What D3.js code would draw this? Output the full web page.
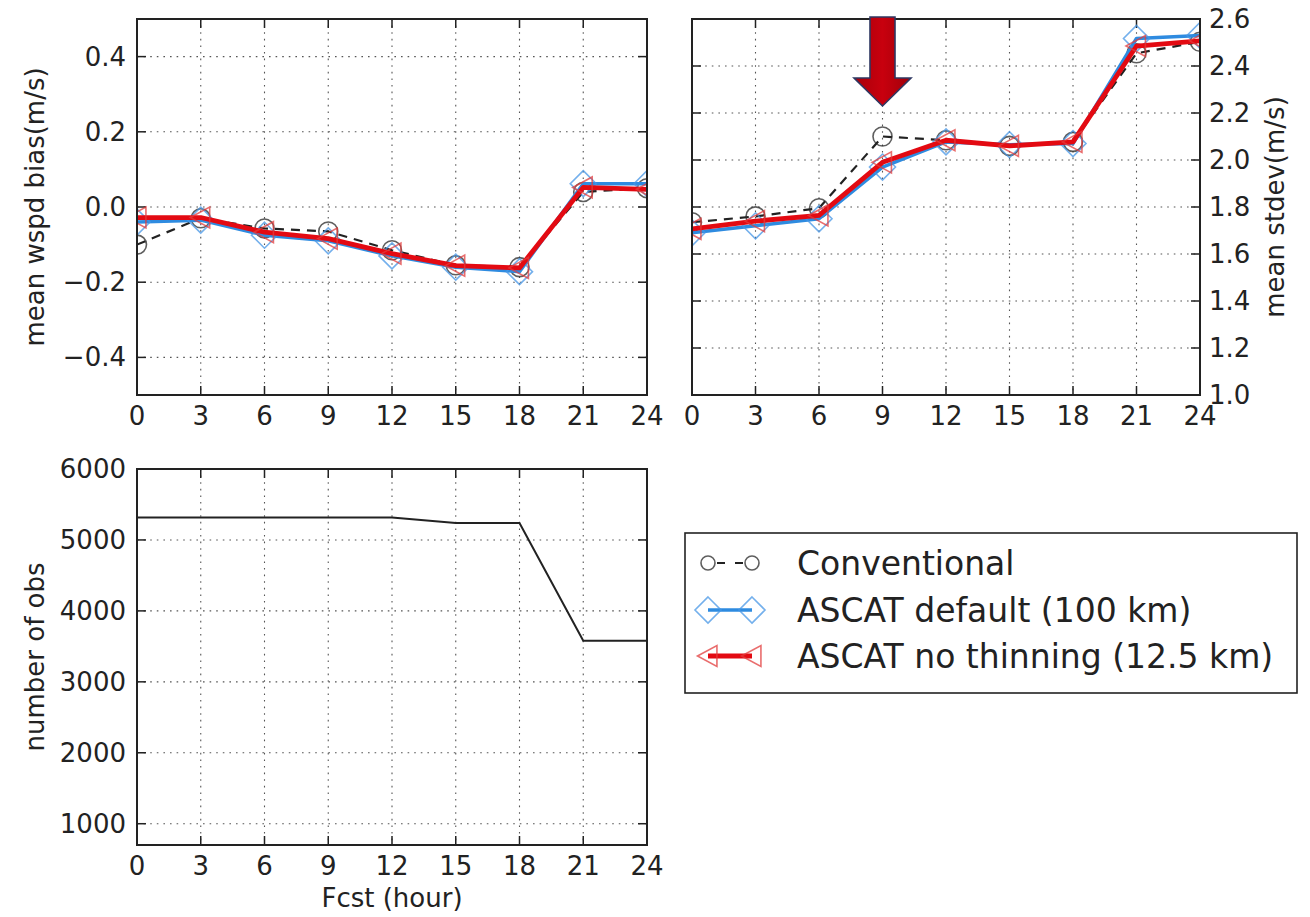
<!DOCTYPE html>
<html>
<head>
<meta charset="utf-8">
<script src="https://cdn.jsdelivr.net/npm/d3@7"></script>
<style>
  html, body { margin: 0; padding: 0; background: #fff; }
  svg { display: block; font-family: "DejaVu Sans", sans-serif; }
</style>
</head>
<body>
<svg id="chart" width="1310" height="917"></svg>
<script>
// ---------------- data ----------------
const hours = [0, 3, 6, 9, 12, 15, 18, 21, 24];
const xTicks = [0, 3, 6, 9, 12, 15, 18, 21, 24];

const seriesNames = ["Conventional", "ASCAT default (100 km)", "ASCAT no thinning (12.5 km)"];

const biasConventional = [-0.10, -0.03, -0.057, -0.065, -0.115, -0.155, -0.16, 0.04, 0.05];
const biasDefault      = [-0.04, -0.035, -0.075, -0.09, -0.13, -0.16, -0.172, 0.062, 0.062];
const biasNoThin       = [-0.028, -0.028, -0.067, -0.084, -0.124, -0.156, -0.162, 0.052, 0.047];

const stdConventional = [1.735, 1.76, 1.795, 2.10, 2.084, 2.06, 2.077, 2.454, 2.503];
const stdDefault      = [1.69, 1.72, 1.75, 1.97, 2.077, 2.065, 2.07, 2.517, 2.53];
const stdNoThin       = [1.707, 1.74, 1.764, 1.99, 2.084, 2.06, 2.077, 2.485, 2.507];

const obsCount = [5315, 5315, 5315, 5315, 5315, 5240, 5240, 3580, 3580];

const biasTicks = [-0.4, -0.2, 0.0, 0.2, 0.4];
const stdTicks = [1.0, 1.2, 1.4, 1.6, 1.8, 2.0, 2.2, 2.4, 2.6];
const obsTicks = [1000, 2000, 3000, 4000, 5000, 6000];

const arrowHour = 9, arrowTopValue = 2.6, arrowTipValue = 2.23;

// ---------------- styles ----------------
const FONT = 26;
const styles = [
  { color: "#222", width: 2.2, dash: "9,7", marker: "circle", mStroke: "rgba(40,40,40,0.75)", size: 9.5, lsize: 7 },
  { color: "#2e8be0", width: 3.5, dash: null, marker: "diamond", mStroke: "rgba(70,150,230,0.75)", size: 13, lsize: 13 },
  { color: "#e30a12", width: 4.8, dash: null, marker: "triangle", mStroke: "rgba(225,60,60,0.75)", size: 10.5, lsize: 10.5 }
];

const svg = d3.select("#chart");
svg.append("rect").attr("width", 1310).attr("height", 917).attr("fill", "#fff");

function markerPath(type, s) {
  if (type === "circle") return d3.symbol().type(d3.symbolCircle).size(Math.PI * s * s)();
  if (type === "diamond") return `M0,${-s}L${s},0L0,${s}L${-s},0Z`;
  // triangle pointing left
  return `M${-s},0L${s * 0.85},${-s}L${s * 0.85},${s}Z`;
}

let clipId = 0;
function panel(opt) {
  const { x0, x1, y0, y1, yDomain, yTicks, yFmt, ySide, yLabel, xLabel } = opt;
  const x = d3.scaleLinear().domain([0, 24]).range([x0, x1]);
  const y = d3.scaleLinear().domain(yDomain).range([y1, y0]);
  const g = svg.append("g");
  const id = "clip" + (clipId++);
  svg.append("defs").append("clipPath").attr("id", id)
    .append("rect").attr("x", x0).attr("y", y0).attr("width", x1 - x0).attr("height", y1 - y0);

  // grid
  const grid = g.append("g").attr("stroke", "#555").attr("stroke-width", 1.1).attr("stroke-dasharray", "1.6,5");
  xTicks.forEach(t => {
    if (t === 0 || t === 24) return;
    grid.append("line").attr("x1", x(t)).attr("x2", x(t)).attr("y1", y0).attr("y2", y1);
  });
  yTicks.forEach(t => {
    if (Math.abs(y(t) - y0) < 1 || Math.abs(y(t) - y1) < 1) return;
    grid.append("line").attr("x1", x0).attr("x2", x1).attr("y1", y(t)).attr("y2", y(t));
  });

  // ticks (inward, all sides)
  const tk = g.append("g").attr("stroke", "#222").attr("stroke-width", 1.5);
  const TL = 9;
  xTicks.forEach(t => {
    tk.append("line").attr("x1", x(t)).attr("x2", x(t)).attr("y1", y1).attr("y2", y1 - TL);
    tk.append("line").attr("x1", x(t)).attr("x2", x(t)).attr("y1", y0).attr("y2", y0 + TL);
  });
  yTicks.forEach(t => {
    tk.append("line").attr("x1", x0).attr("x2", x0 + TL).attr("y1", y(t)).attr("y2", y(t));
    tk.append("line").attr("x1", x1).attr("x2", x1 - TL).attr("y1", y(t)).attr("y2", y(t));
  });

  // tick labels
  const lab = g.append("g").attr("fill", "#222").attr("font-size", FONT);
  xTicks.forEach(t => {
    lab.append("text").attr("x", x(t)).attr("y", y1 + 21).attr("text-anchor", "middle")
      .attr("dominant-baseline", "central").text(t);
  });
  yTicks.forEach(t => {
    lab.append("text")
      .attr("x", ySide === "left" ? x0 - 11 : x1 + 9)
      .attr("y", y(t))
      .attr("text-anchor", ySide === "left" ? "end" : "start")
      .attr("dominant-baseline", "central").text(yFmt(t));
  });

  // axis labels
  const yc = (y0 + y1) / 2;
  const lx = ySide === "left" ? 35 : 1275;
  g.append("text").attr("transform", `translate(${lx},${yc}) rotate(-90)`)
    .attr("text-anchor", "middle").attr("dominant-baseline", "central")
    .attr("font-size", FONT).attr("fill", "#222").text(yLabel);
  if (xLabel) {
    g.append("text").attr("x", (x0 + x1) / 2).attr("y", y1 + 53).attr("text-anchor", "middle")
      .attr("dominant-baseline", "central").attr("font-size", FONT).attr("fill", "#222").text(xLabel);
  }

  const plot = g.append("g").attr("clip-path", `url(#${id})`);
  // frame
  g.append("rect").attr("x", x0).attr("y", y0).attr("width", x1 - x0).attr("height", y1 - y0)
    .attr("fill", "none").attr("stroke", "#222").attr("stroke-width", 2);
  return { x, y, plot, g };
}

function drawSeries(p, values, st) {
  const line = d3.line().x((d, i) => p.x(hours[i])).y(d => p.y(d));
  p.plot.append("path").datum(values).attr("d", line).attr("fill", "none")
    .attr("stroke", st.color).attr("stroke-width", st.width)
    .attr("stroke-dasharray", st.dash).attr("stroke-linejoin", "round");
  p.plot.selectAll(null).data(values).enter().append("path")
    .attr("transform", (d, i) => `translate(${p.x(hours[i])},${p.y(d)})`)
    .attr("d", markerPath(st.marker, st.size))
    .attr("fill", "none").attr("stroke", st.mStroke).attr("stroke-width", 1.6);
}

const fmt1 = d => (d < 0 ? "\u2212" : "") + Math.abs(d).toFixed(1);

// ---------------- top-left: bias ----------------
const pBias = panel({ x0: 137, x1: 647, y0: 19, y1: 395, yDomain: [-0.5, 0.5], yTicks: biasTicks,
  yFmt: fmt1, ySide: "left", yLabel: "mean wspd bias(m/s)" });
[biasConventional, biasDefault, biasNoThin].forEach((v, i) => drawSeries(pBias, v, styles[i]));

// ---------------- top-right: stdev ----------------
const pStd = panel({ x0: 692, x1: 1200, y0: 19, y1: 395, yDomain: [1.0, 2.6], yTicks: stdTicks,
  yFmt: fmt1, ySide: "right", yLabel: "mean stdev(m/s)" });
[stdConventional, stdDefault, stdNoThin].forEach((v, i) => drawSeries(pStd, v, styles[i]));

// arrow annotation
{
  const ax = pStd.x(arrowHour);
  const yt = pStd.y(arrowTopValue) - 2;
  const yTip = pStd.y(arrowTipValue);
  const sw = 12.5, hw = 28.5, hl = 28;
  const grad = svg.append("defs").append("linearGradient").attr("id", "arrGrad")
    .attr("x1", 0).attr("x2", 1).attr("y1", 0).attr("y2", 0);
  grad.append("stop").attr("offset", "0%").attr("stop-color", "#a8000a");
  grad.append("stop").attr("offset", "50%").attr("stop-color", "#c8000e");
  grad.append("stop").attr("offset", "100%").attr("stop-color", "#a0000a");
  const pts = [
    [ax - sw, yt], [ax + sw, yt], [ax + sw, yTip - hl], [ax + hw, yTip - hl],
    [ax, yTip], [ax - hw, yTip - hl], [ax - sw, yTip - hl]
  ];
  svg.append("path").attr("d", d3.line()(pts) + "Z")
    .attr("fill", "url(#arrGrad)").attr("stroke", "#2e3762").attr("stroke-width", 1.6)
    .attr("stroke-linejoin", "miter");
}

// ---------------- bottom: obs count ----------------
const pObs = panel({ x0: 137, x1: 647, y0: 469, y1: 845, yDomain: [700, 6000], yTicks: obsTicks,
  yFmt: d => String(d), ySide: "left", yLabel: "number of obs", xLabel: "Fcst (hour)" });
pObs.plot.append("path").datum(obsCount)
  .attr("d", d3.line().x((d, i) => pObs.x(hours[i])).y(d => pObs.y(d)))
  .attr("fill", "none").attr("stroke", "#222").attr("stroke-width", 2);

// ---------------- legend ----------------
{
  const lg = svg.append("g");
  lg.append("rect").attr("x", 685).attr("y", 533).attr("width", 612).attr("height", 160)
    .attr("fill", "#fff").attr("stroke", "#222").attr("stroke-width", 1.6);
  const rowY = [563, 610, 656];
  const hx0 = 708, hx1 = 752;
  seriesNames.forEach((name, i) => {
    const st = styles[i];
    const yy = rowY[i];
    lg.append("line").attr("x1", hx0).attr("x2", hx1).attr("y1", yy).attr("y2", yy)
      .attr("stroke", st.color).attr("stroke-width", st.width)
      .attr("stroke-dasharray", i === 0 ? "8,10" : null)
      .attr("stroke-dashoffset", i === 0 ? -9 : 0);
    [hx0, hx1].forEach(mx => {
      lg.append("path").attr("transform", `translate(${mx},${yy})`)
        .attr("d", markerPath(st.marker, st.lsize))
        .attr("fill", "none").attr("stroke", st.mStroke).attr("stroke-width", 1.6);
    });
    lg.append("text").attr("x", 797).attr("y", yy).attr("dominant-baseline", "central")
      .attr("font-size", 33).attr("fill", "#222").text(name);
  });
}
</script>
</body>
</html>
